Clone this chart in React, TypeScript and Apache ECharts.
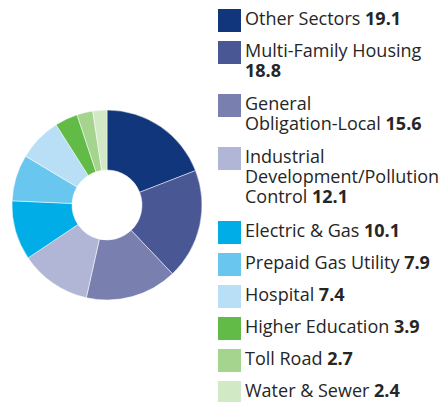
import React, { useEffect, useRef } from "react";
import * as echarts from "echarts";

const sectors = [
  "Other Sectors",
  "Multi-Family Housing",
  "General Obligation-Local",
  "Industrial Development/Pollution Control",
  "Electric & Gas",
  "Prepaid Gas Utility",
  "Hospital",
  "Higher Education",
  "Toll Road",
  "Water & Sewer",
];
const values = [19.1, 18.8, 15.6, 12.1, 10.1, 7.9, 7.4, 3.9, 2.7, 2.4];
const colors = [
  "#12367b",
  "#4a5795",
  "#797faf",
  "#b2b6d6",
  "#00ade6",
  "#69c7ef",
  "#b8dff5",
  "#62bb46",
  "#a5d48e",
  "#d2e9c6",
];
// legend label lines (last line gets the bold value appended)
const legendLines = [
  ["Other Sectors"],
  ["Multi-Family Housing", ""],
  ["General", "Obligation-Local"],
  ["Industrial", "Development/Pollution", "Control"],
  ["Electric & Gas"],
  ["Prepaid Gas Utility"],
  ["Hospital"],
  ["Higher Education"],
  ["Toll Road"],
  ["Water & Sewer"],
];

export default function App() {
  const ref = useRef<HTMLDivElement>(null);
  useEffect(() => {
    if (!ref.current) return;
    const chart = echarts.init(ref.current, undefined, { renderer: "svg" });
    const font = "'Open Sans', Lato, sans-serif";
    const fs = 18;
    const graphics: any[] = [];
    let top = 9;
    const lh = 20;
    legendLines.forEach((lines, i) => {
      graphics.push({
        type: "rect",
        shape: { x: 218, y: top, width: 23, height: 23 },
        style: { fill: colors[i] },
      });
      const parts = lines.map((l, j) => {
        if (j === lines.length - 1) {
          return (l ? `{n|${l}} ` : "") + `{v|${values[i].toFixed(1)}}`;
        }
        return `{n|${l}}`;
      });
      graphics.push({
        type: "text",
        x: 245,
        y: top - 1,
        style: {
          text: parts.join("\n"),
          fontFamily: font,
          fontSize: fs,
          lineHeight: lh,
          fill: "#262626",
          verticalAlign: "top",
          align: "left",
          rich: {
            n: { fontSize: fs, fontFamily: font, fill: "#262626", lineHeight: lh },
            v: {
              fontSize: fs,
              fontFamily: font,
              fontWeight: "bold",
              fill: "#262626",
              lineHeight: lh,
            },
          },
        },
      });
      top += lines.length * 21 + 11;
    });

    chart.setOption({
      animation: false,
      color: colors,
      series: [
        {
          type: "pie",
          center: [107, 205],
          radius: [35, 95],
          startAngle: 90,
          clockwise: true,
          label: { show: false },
          labelLine: { show: false },
          itemStyle: { borderColor: "#ffffff", borderWidth: 0.5 },
          emphasis: { disabled: true },
          data: sectors.map((s, i) => ({ name: s, value: values[i] })),
        },
      ],
      graphic: graphics,
    });
    return () => chart.dispose();
  }, []);
  return (
    <div
      ref={ref}
      style={{ position: "fixed", left: 0, top: 0, width: 438, height: 402, background: "#fff" }}
    />
  );
}
